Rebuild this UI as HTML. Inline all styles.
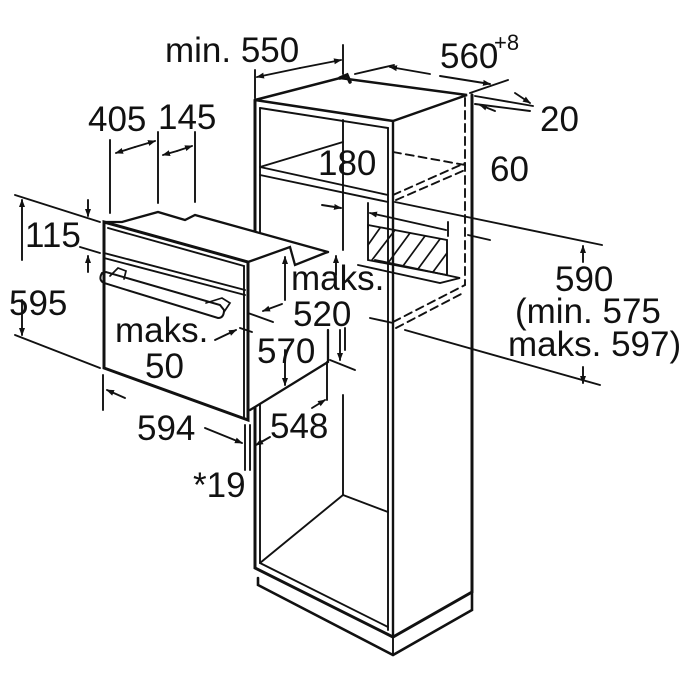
<!DOCTYPE html>
<html><head><style>
html,body{margin:0;padding:0;background:#fff;}
svg{display:block;}
text{font-family:"Liberation Sans",sans-serif;font-size:35px;fill:#111;}
</style></head><body>
<svg width="700" height="700" viewBox="0 0 700 700" xmlns="http://www.w3.org/2000/svg">
<defs>
<marker id="a" markerWidth="8" markerHeight="8" refX="7" refY="4" orient="auto" markerUnits="userSpaceOnUse"><path d="M0,1 L8,4 L0,7 Z" fill="#111"/></marker>
</defs>
<g stroke="#111" fill="none" stroke-width="1.9" stroke-linecap="round">
<path d="M255,100 L255,568 L393,637 L472,592 L472,95" stroke-width="3"/>
<path d="M255,100 L340,78 L467,95 L393,121 Z" stroke-width="2.5"/>
<path d="M340,78 L347,75 L350,82" stroke-width="3.5"/>
<line x1="393" y1="121" x2="393" y2="637" stroke-width="2.4"/>
<line x1="388" y1="128" x2="388" y2="630"/>
<line x1="260" y1="108" x2="260" y2="563"/>
<line x1="260" y1="108" x2="388" y2="128"/>
<line x1="260" y1="167" x2="388" y2="195"/>
<line x1="260" y1="175" x2="388" y2="202"/>
<line x1="260" y1="167" x2="343" y2="142"/>
<line x1="343" y1="120" x2="343" y2="250"/>
<line x1="343" y1="395" x2="343" y2="495"/>
<line x1="260" y1="563" x2="343" y2="495"/>
<line x1="343" y1="495" x2="388" y2="512"/>
<line x1="260" y1="563" x2="388" y2="627"/>
<path d="M258,578 L258,585 L393,655 L472,610 L472,592" stroke-width="2.6"/>
<line x1="393" y1="637" x2="393" y2="655"/>
<g stroke-dasharray="8,5">
<line x1="465" y1="98" x2="465" y2="285"/>
<line x1="393" y1="152" x2="465" y2="165"/>
<line x1="393" y1="195" x2="465" y2="163"/>
<line x1="396" y1="200" x2="465" y2="170"/>
<line x1="393" y1="322" x2="465" y2="285"/>
<line x1="396" y1="328" x2="465" y2="292"/>
</g>
<path d="M368,225 L447,240 L447,275 L368,260 Z"/>
<path d="M358,265 L440,283 L460,278 L375,260"/>
<g stroke-width="1.7">
<line x1="368" y1="245" x2="380" y2="228"/><line x1="372" y1="260" x2="395" y2="230"/>
<line x1="388" y1="263" x2="410" y2="233"/><line x1="403" y1="266" x2="425" y2="236"/>
<line x1="418" y1="269" x2="440" y2="239"/><line x1="433" y1="272" x2="447" y2="253"/>
</g>
<line x1="368" y1="203" x2="368" y2="228"/><line x1="448" y1="222" x2="448" y2="236"/>
<line x1="446" y1="230" x2="370" y2="213" marker-end="url(#a)"/>
<line x1="255" y1="98" x2="255" y2="70"/><line x1="343" y1="74" x2="343" y2="45"/>
<line x1="300" y1="68" x2="257" y2="77" marker-end="url(#a)"/><line x1="300" y1="68" x2="341" y2="60" marker-end="url(#a)"/>
<line x1="355" y1="74" x2="394" y2="65"/><line x1="470" y1="93" x2="508" y2="80"/>
<line x1="430" y1="74" x2="390" y2="67" marker-end="url(#a)"/><line x1="440" y1="76" x2="490" y2="84" marker-end="url(#a)"/>
<line x1="475" y1="96" x2="533" y2="106"/><line x1="475" y1="104" x2="530" y2="111"/>
<line x1="515" y1="93" x2="530" y2="103" marker-end="url(#a)"/><line x1="495" y1="111" x2="480" y2="105" marker-end="url(#a)"/>
<line x1="395" y1="202" x2="602" y2="245"/>
<line x1="370" y1="318" x2="393" y2="323"/>
<line x1="405" y1="330" x2="600" y2="385"/>
<line x1="468" y1="235" x2="490" y2="240"/>
<line x1="583" y1="262" x2="583" y2="246" marker-end="url(#a)"/>
<line x1="583" y1="367" x2="583" y2="383" marker-end="url(#a)"/>
<line x1="322" y1="205" x2="341" y2="208" marker-end="url(#a)"/>
<path d="M104,222 L122,222 L158,212 L185,220 L195,215 L328,252 L328,362 L250,410 L248,420 L104,368 Z" fill="#fff" stroke="none"/>
<path d="M104,222 L248,262 L248,420 L104,368 Z" stroke-width="3"/>
<path d="M108,228 L244,266"/>
<path d="M104,253 L245,290"/><path d="M104,258 L245,295"/>
<path d="M104,222 L122,222 L158,212 L185,220 L195,215 L328,252" stroke-width="2.3"/>
<path d="M248,262 L290,247 L295,265 L325,253 L328,252" stroke-width="2.3"/>
<path d="M250,410 L328,362 L328,330" stroke-width="2.3"/>
<line x1="244" y1="266" x2="244" y2="418"/>
<path d="M102,273 Q98,280 104,283 L218,318 Q224,318 224,310 L220,305 L106,272 Z" stroke-width="2"/>
<path d="M206,303 L222,298 L230,303 L224,312" stroke-width="1.7"/>
<path d="M110,276 L118,268 L126,271 L124,279" stroke-width="1.7"/>
<line x1="110" y1="140" x2="110" y2="213"/><line x1="158" y1="132" x2="158" y2="203"/><line x1="195" y1="132" x2="195" y2="202"/>
<line x1="135" y1="147" x2="116" y2="153" marker-end="url(#a)"/><line x1="135" y1="147" x2="155" y2="141" marker-end="url(#a)"/>
<line x1="177" y1="151" x2="163" y2="155" marker-end="url(#a)"/><line x1="177" y1="151" x2="192" y2="146" marker-end="url(#a)"/>
<line x1="15" y1="195" x2="100" y2="222"/><line x1="80" y1="247" x2="100" y2="253"/>
<line x1="88" y1="200" x2="88" y2="216" marker-end="url(#a)"/><line x1="88" y1="272" x2="88" y2="256" marker-end="url(#a)"/>
<line x1="22" y1="260" x2="22" y2="200" marker-end="url(#a)"/><line x1="22" y1="300" x2="22" y2="335" marker-end="url(#a)"/>
<line x1="15" y1="335" x2="100" y2="368"/>
<line x1="103" y1="375" x2="103" y2="410"/><line x1="245" y1="425" x2="245" y2="470"/>
<line x1="250" y1="425" x2="250" y2="470"/><line x1="255" y1="425" x2="255" y2="470"/>
<line x1="125" y1="398" x2="107" y2="390" marker-end="url(#a)"/><line x1="205" y1="428" x2="242" y2="443" marker-end="url(#a)"/>
<line x1="270" y1="437" x2="256" y2="445" marker-end="url(#a)"/>
<line x1="327" y1="362" x2="327" y2="400"/><line x1="312" y1="408" x2="325" y2="400" marker-end="url(#a)"/>
<line x1="285" y1="300" x2="285" y2="257" marker-end="url(#a)"/><line x1="285" y1="350" x2="285" y2="385" marker-end="url(#a)"/>
<line x1="336" y1="275" x2="336" y2="256" marker-end="url(#a)"/>
<line x1="340" y1="330" x2="340" y2="360" marker-end="url(#a)"/><line x1="345" y1="328" x2="345" y2="350"/>
<line x1="330" y1="360" x2="355" y2="370"/>
<line x1="248" y1="313" x2="273" y2="322"/><line x1="282" y1="304" x2="263" y2="311" marker-end="url(#a)"/>
<line x1="252" y1="332" x2="240" y2="328"/><line x1="215" y1="340" x2="236" y2="330" marker-end="url(#a)"/>
</g>
<text x="165" y="62">min. 550</text>
<text x="440" y="68">560</text><text x="494" y="50" style="font-size:22px">+8</text>
<text x="540" y="131">20</text>
<text x="318" y="175">180</text>
<text x="490" y="181">60</text>
<text x="88" y="131">405</text><text x="158" y="129">145</text>
<text x="25" y="247">115</text>
<text x="9" y="315">595</text>
<text x="291" y="290">maks.</text><text x="293" y="326">520</text>
<text x="115" y="342">maks.</text><text x="145" y="378">50</text>
<text x="257" y="363">570</text>
<text x="555" y="291">590</text>
<text x="515" y="323">(min. 575</text>
<text x="508" y="356">maks. 597)</text>
<text x="137" y="440">594</text>
<text x="270" y="438">548</text>
<text x="193" y="497">*19</text>
</svg>
</body></html>
